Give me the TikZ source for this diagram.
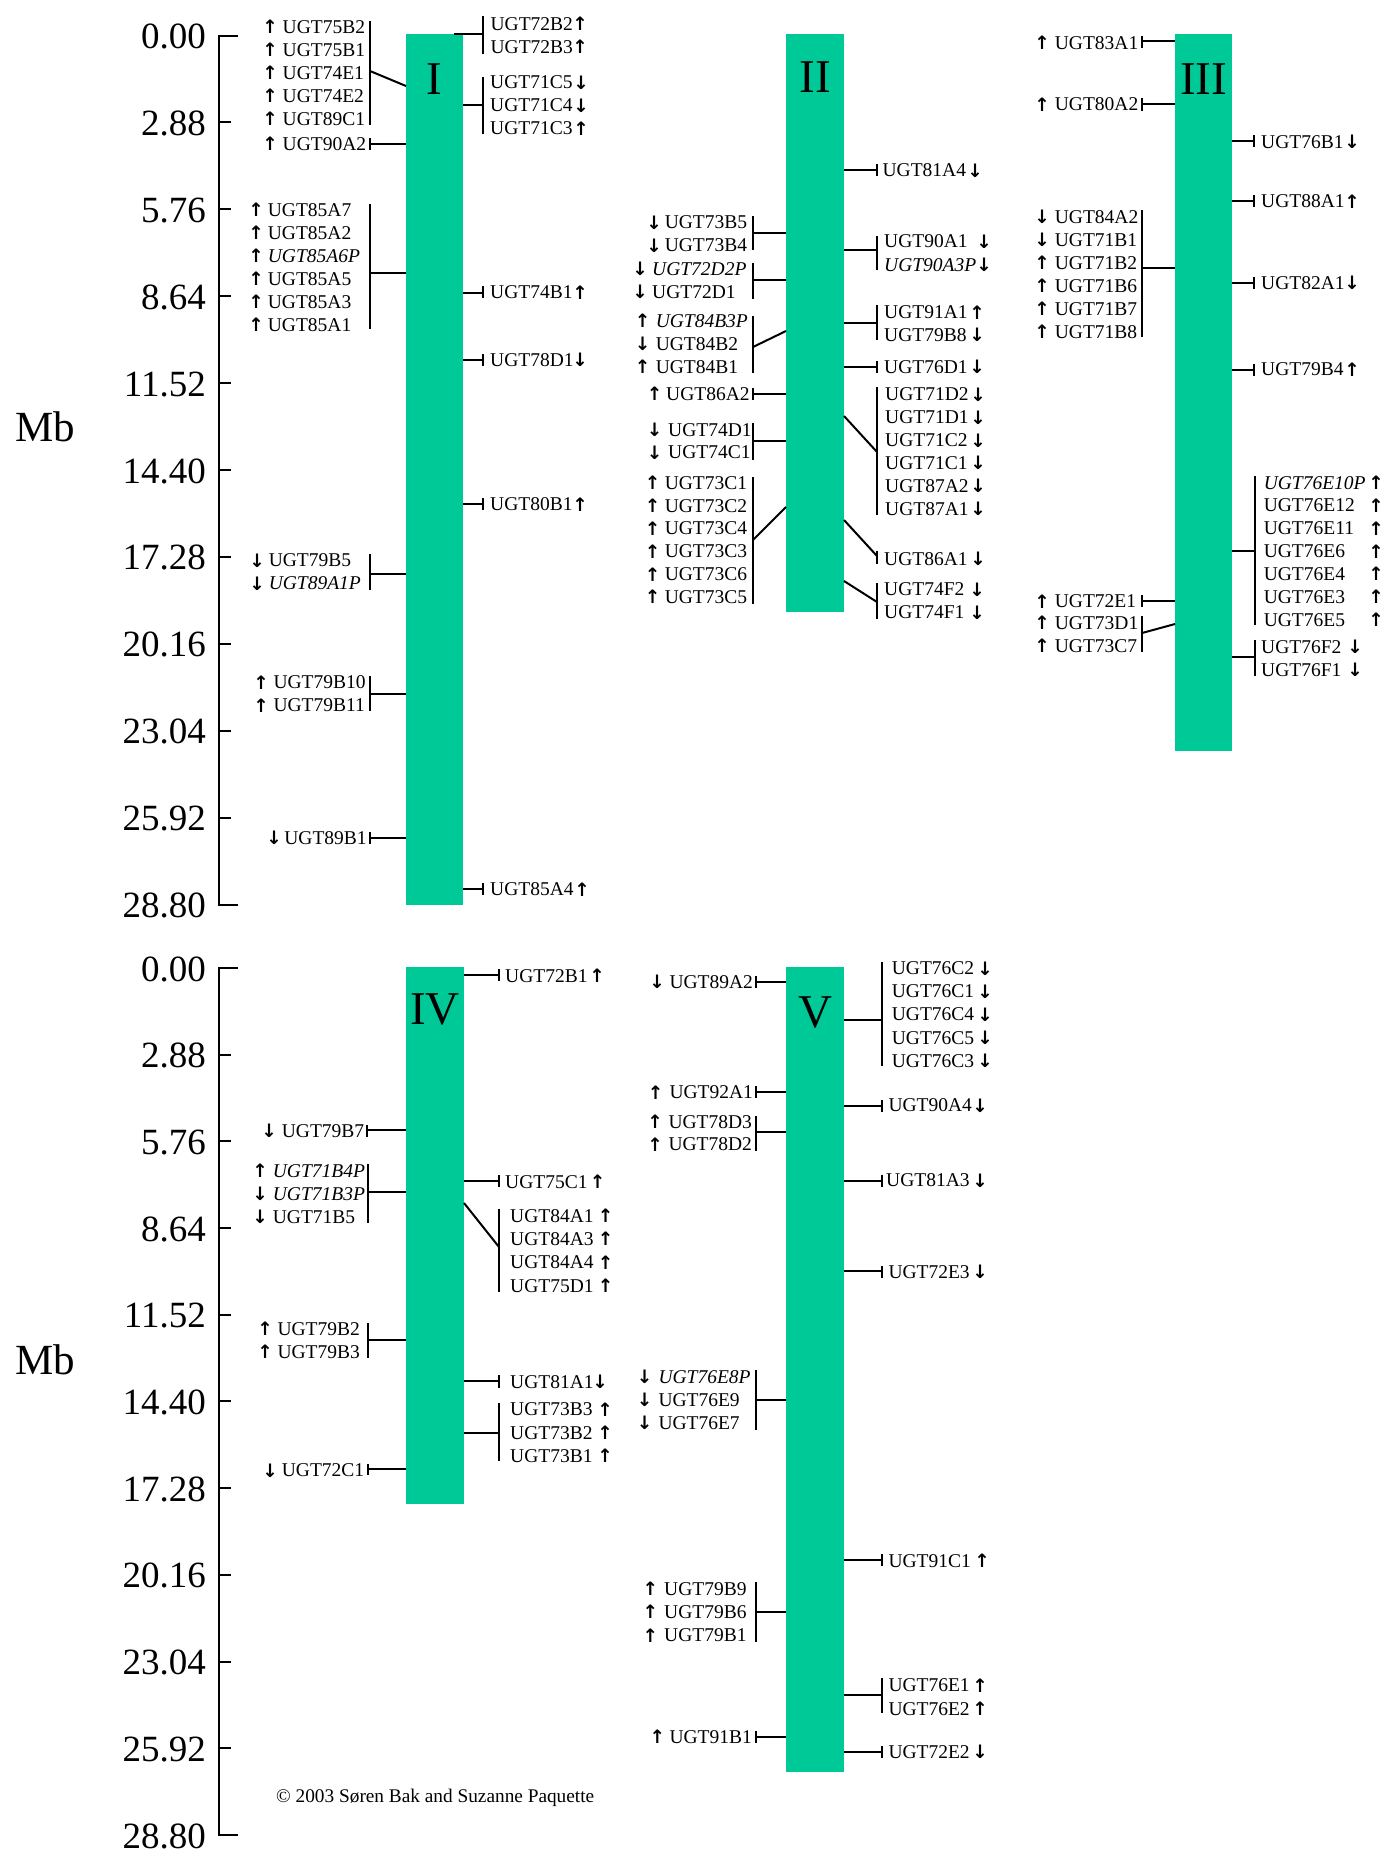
\documentclass[tikz,border=0pt]{standalone}
\usepackage{fontspec}
\setmainfont{Liberation Serif}
\newfontfamily\arrfont{DejaVu Sans}
\definecolor{chrgreen}{RGB}{0,201,152}
\tikzset{
  lab/.style={anchor=west, inner sep=0pt, font=\fontsize{19.5}{23}\selectfont, text height=12.8pt, text depth=0pt},
  labit/.style={lab, font=\fontsize{19.5}{23}\selectfont\itshape},
  arr/.style={inner sep=0pt, font=\fontsize{18.5}{18.5}\arrfont\bfseries},
  ln/.style={line width=2pt, black},
  chrom/.style={fill=chrgreen, draw=none, inner sep=0pt},
  roman/.style={inner sep=0pt, font=\fontsize{47}{50}\selectfont},
  axlab/.style={anchor=east, inner sep=0pt, font=\fontsize{37}{40}\selectfont},
  mblab/.style={inner sep=0pt, font=\fontsize{43}{46}\selectfont},
  copy/.style={anchor=west, inner sep=0pt, font=\fontsize{19.3}{22}\selectfont}
}
\newcommand\upA{↑}
\newcommand\dnA{↓}
\newcommand\Gn[5]{\node[lab] (#1) at (#3,#5) {#1};\node[arr] (#1-a) at (#4,#5) {#2};}
\newcommand\Gi[5]{\node[labit] (#1) at (#3,#5) {#1};\node[arr] (#1-a) at (#4,#5) {#2};}
\newcommand\Brk[7]{%
  \pgfmathsetmacro\bkX{round(#2)}\pgfmathsetmacro\bkT{round(#3)}%
  \pgfmathsetmacro\bkB{round(#4)}\pgfmathsetmacro\bkJ{round(#5)}%
  \pgfmathsetmacro\bkCx{round(#6)}\pgfmathsetmacro\bkCy{round(#7)}%
  \coordinate (#1t) at (\bkX,\bkT);\coordinate (#1b) at (\bkX,\bkB);%
  \coordinate (#1j) at (\bkX,\bkJ);\coordinate (#1c) at (\bkCx,\bkCy);%
  \draw[ln] (#1t)--(#1b);\draw[ln] (#1j)--(#1c);}
\begin{document}
\begin{tikzpicture}[x=1pt,y=-1pt]
\useasboundingbox (0,0) rectangle (1400,1869);
% ---------- axes ----------
\foreach \i/\t in {0/0.00,1/2.88,2/5.76,3/8.64,4/11.52,5/14.40,6/17.28,7/20.16,8/23.04,9/25.92,10/28.80}{
  \pgfmathsetmacro\uty{round(35.5+86.95*\i)}
  \pgfmathsetmacro\lty{round(968+86.7*\i)}
  \node[axlab] (ua\i) at (206,36.5+86.9*\i) {\t};
  \coordinate (uts\i) at (219,\uty);
  \coordinate (ute\i) at (231,\uty);
  \draw[ln] (uts\i) -- (ute\i);
  \node[axlab] (la\i) at (206,969+86.7*\i) {\t};
  \coordinate (lts\i) at (219,\lty);
  \coordinate (lte\i) at (231,\lty);
  \draw[ln] (lts\i) -- (lte\i);
}
\coordinate (uaxT) at (238,36); \coordinate (uaxB) at (238,905);
\draw[ln] (uaxT) -- (uts0) -- (uts10) -- (uaxB);
\coordinate (laxT) at (238,968); \coordinate (laxB) at (238,1835);
\draw[ln] (laxT) -- (lts0) -- (lts10) -- (laxB);
\node[mblab] (mbU) at (45.5,427) {Mb};
\node[mblab] (mbL) at (45.5,1360) {Mb};
% ---------- chromosome bars ----------
\node[chrom, minimum width=57pt, minimum height=870.5pt] (chrI) at (434.5,469.25) {};
\node[chrom, minimum width=58pt, minimum height=577.5pt] (chrII) at (815,322.75) {};
\node[chrom, minimum width=57pt, minimum height=716.5pt] (chrIII) at (1203.5,392.25) {};
\node[chrom, minimum width=58pt, minimum height=537.5pt] (chrIV) at (435,1235.25) {};
\node[chrom, minimum width=58pt, minimum height=804.5pt] (chrV) at (815,1369.25) {};
\node[roman] (nI) at (434.5,79) {I};
\node[roman] (nII) at (815,77) {II};
\node[roman] (nIII) at (1203.5,79) {III};
\node[roman] (nIV) at (435,1009) {IV};
\node[roman] (nV) at (815,1012.7) {V};
% ================= Chromosome I =================
\begin{scope}[yshift=-1pt]
\Gn{UGT75B2}{\upA}{282.5}{270}{26}
\Gn{UGT75B1}{\upA}{282.5}{270}{49}
\Gn{UGT74E1}{\upA}{282.5}{270}{72}
\Gn{UGT74E2}{\upA}{282.5}{270}{95}
\Gn{UGT89C1}{\upA}{282.5}{270}{118}
\Brk{gIa}{370}{20}{124}{70.4}{406}{85.2}
\Gn{UGT90A2}{\upA}{282.5}{270}{143}
\Brk{gIb}{370}{137}{149}{143}{406}{143}
\Gn{UGT72B2}{\upA}{490.4}{580}{22.9}
\Gn{UGT72B3}{\upA}{490.4}{580}{46}
\Brk{gIg}{483}{15.3}{52.6}{33}{454}{33}
\Gn{UGT71C5}{\dnA}{490}{581}{81.3}
\Gn{UGT71C4}{\dnA}{490}{581}{104.4}
\Gn{UGT71C3}{\upA}{490}{581}{127.4}
\Brk{gIh}{483}{75.7}{133}{104.4}{463}{104.4}
\end{scope}
\begin{scope}[yshift=-2pt]
\Gn{UGT85A7}{\upA}{267.7}{256}{208}
\Gn{UGT85A2}{\upA}{267.7}{256}{231}
\Gi{UGT85A6P}{\upA}{267.7}{256}{254}
\Gn{UGT85A5}{\upA}{267.7}{256}{277}
\Gn{UGT85A3}{\upA}{267.7}{256}{300}
\Gn{UGT85A1}{\upA}{267.7}{256}{323}
\Brk{gIc}{370}{202}{327}{271}{406}{271}
\Gn{UGT74B1}{\upA}{490}{580}{290.5}
\Brk{gIi}{483}{284}{296}{290.5}{463}{290.5}
\Gn{UGT78D1}{\dnA}{490}{580}{358}
\Brk{gIj}{483}{352}{364}{358}{463}{358}
\end{scope}
\begin{scope}[yshift=-3pt]
\Gn{UGT79B5}{\dnA}{268.6}{257}{557.5}
\Gi{UGT89A1P}{\dnA}{268.6}{257}{580.5}
\Brk{gId}{370}{551}{587}{571}{406}{571}
\Gn{UGT79B10}{\upA}{273.3}{261}{679.5}
\Gn{UGT79B11}{\upA}{273.3}{261}{702.5}
\Brk{gIe}{370}{673}{708}{691}{406}{691}
\Gn{UGT89B1}{\dnA}{284.2}{274}{835}
\Brk{gIf}{370}{829}{841}{835}{406}{835}
\Gn{UGT80B1}{\upA}{490}{580}{501.5}
\Brk{gIk}{483}{495}{507}{501}{463}{501}
\Gn{UGT85A4}{\upA}{490}{582}{886.5}
\Brk{gIl}{483}{880}{892}{886}{463}{886}
\end{scope}
% ================= Chromosome II =================
\Gn{UGT81A4}{\dnA}{882.4}{975}{170.5}
\Brk{gIIg}{876.8}{164.3}{176.3}{170.3}{844}{170.3}
\begin{scope}[yshift=-2pt]
\Gn{UGT73B5}{\dnA}{664.6}{654}{220.5}
\Gn{UGT73B4}{\dnA}{664.6}{654}{243.5}
\Brk{gIIa}{752.7}{214}{248.4}{231.3}{786}{231.3}
\Gi{UGT72D2P}{\dnA}{652}{640}{267}
\Gn{UGT72D1}{\dnA}{652}{640}{290}
\Brk{gIIb}{752.7}{261}{296.6}{277.5}{786}{277.5}
\Gi{UGT84B3P}{\upA}{655.6}{642.5}{318.7}
\Gn{UGT84B2}{\dnA}{655.6}{642.5}{341.7}
\Gn{UGT84B1}{\upA}{655.6}{642.5}{364.8}
\Brk{gIIc}{752.7}{313.7}{371.4}{345}{786}{328.5}
\Gn{UGT86A2}{\upA}{666}{654.5}{392}
\Brk{gIId}{752.7}{386}{398}{392}{786}{392}
\Gn{UGT74D1}{\dnA}{668}{654.5}{427.9}
\Gn{UGT74C1}{\dnA}{668}{654.5}{450.5}
\Brk{gIIe}{752.7}{421.3}{457.6}{438.7}{786}{438.7}
\Gn{UGT73C1}{\upA}{664.6}{652.5}{480.7}
\Gn{UGT73C2}{\upA}{664.6}{652.5}{503.6}
\Gn{UGT73C4}{\upA}{664.6}{652.5}{526.5}
\Gn{UGT73C3}{\upA}{664.6}{652.5}{549.4}
\Gn{UGT73C6}{\upA}{664.6}{652.5}{572.3}
\Gn{UGT73C5}{\upA}{664.6}{652.5}{595.2}
\Brk{gIIf}{752.7}{475}{601.8}{538.4}{786}{504.8}
\Gn{UGT90A1}{\dnA}{884}{984}{239.5}
\Gi{UGT90A3P}{\dnA}{884}{984}{262.6}
\Brk{gIIh}{876.8}{233.9}{267.6}{248.4}{844}{248.4}
\Gn{UGT91A1}{\upA}{884}{977}{310.5}
\Gn{UGT79B8}{\dnA}{884}{977}{333}
\Brk{gIIi}{876.8}{303.2}{338.4}{321}{844}{321}
\Gn{UGT76D1}{\dnA}{884}{977}{364.8}
\Brk{gIIj}{876.8}{358.8}{370.8}{364.8}{844}{364.8}
\Gn{UGT71D2}{\dnA}{885}{978}{392.5}
\Gn{UGT71D1}{\dnA}{885}{978}{415.4}
\Gn{UGT71C2}{\dnA}{885}{978}{438.3}
\Gn{UGT71C1}{\dnA}{885}{978}{461.2}
\Gn{UGT87A2}{\dnA}{885}{978}{484.1}
\Gn{UGT87A1}{\dnA}{885}{978}{507}
\Brk{gIIk}{876.8}{385}{513}{450.3}{844}{414}
\Gn{UGT86A1}{\dnA}{884}{978}{556.6}
\Brk{gIIl}{876.8}{549}{562}{553.5}{844}{518}
\Gn{UGT74F2}{\dnA}{884}{977}{587.3}
\Gn{UGT74F1}{\dnA}{884}{977}{610.4}
\Brk{gIIm}{876.8}{581.3}{617}{599.5}{844}{579}
\end{scope}
% ================= Chromosome III =================
\Gn{UGT83A1}{\upA}{1054.7}{1042}{42.7}
\Brk{gIIIa}{1141.5}{35.5}{48}{41}{1175}{41}
\begin{scope}[yshift=-1pt]
\Gn{UGT80A2}{\upA}{1054.7}{1042}{103.4}
\Brk{gIIIb}{1141.5}{97}{109.5}{102.7}{1175}{102.7}
\Gn{UGT76B1}{\dnA}{1261}{1352}{140.6}
\Brk{gIIIf}{1253.7}{134.3}{146.3}{140.3}{1232}{140.3}
\end{scope}
\begin{scope}[yshift=-3pt]
\Gn{UGT84A2}{\dnA}{1054.7}{1042}{214.2}
\Gn{UGT71B1}{\dnA}{1054.7}{1042}{237.1}
\Gn{UGT71B2}{\upA}{1054.7}{1042}{260}
\Gn{UGT71B6}{\upA}{1054.7}{1042}{282.9}
\Gn{UGT71B7}{\upA}{1054.7}{1042}{305.8}
\Gn{UGT71B8}{\upA}{1054.7}{1042}{328.7}
\Brk{gIIIc}{1141.5}{206.6}{333.5}{264.9}{1175}{264.9}
\Gn{UGT72E1}{\upA}{1054.7}{1042}{598.3}
\Brk{gIIId}{1141.5}{591.5}{603.5}{597.6}{1175}{597.6}
\Gn{UGT73D1}{\upA}{1054.7}{1042}{620}
\Gn{UGT73C7}{\upA}{1054.7}{1042}{643.1}
\Brk{gIIIe}{1141.5}{613.4}{648.7}{629.6}{1175}{620.7}
\Gn{UGT88A1}{\upA}{1261}{1352}{198.3}
\Brk{gIIIg}{1253.7}{192}{204}{198}{1232}{198}
\Gn{UGT82A1}{\dnA}{1261}{1352}{280.1}
\Brk{gIIIh}{1253.7}{273.5}{285.5}{279.5}{1232}{279.5}
\Gn{UGT79B4}{\upA}{1261}{1352}{366.5}
\Brk{gIIIi}{1253.7}{360.5}{372.5}{366.5}{1232}{366.5}
\Gi{UGT76E10P}{\upA}{1263.6}{1376}{479.6}
\Gn{UGT76E12}{\upA}{1263.6}{1376}{502.5}
\Gn{UGT76E11}{\upA}{1263.6}{1376}{525.4}
\Gn{UGT76E6}{\upA}{1263.6}{1376}{548.3}
\Gn{UGT76E4}{\upA}{1263.6}{1376}{571.2}
\Gn{UGT76E3}{\upA}{1263.6}{1376}{594.1}
\Gn{UGT76E5}{\upA}{1263.6}{1376}{617}
\Brk{gIIIj}{1255}{473}{622.3}{548.1}{1232}{548.1}
\Gn{UGT76F2}{\dnA}{1261}{1355}{643.8}
\Gn{UGT76F1}{\dnA}{1261}{1355}{666.8}
\Brk{gIIIk}{1255}{637.2}{672.8}{654.3}{1232}{654.3}
\end{scope}
% ================= Chromosome IV =================
\Gn{UGT79B7}{\dnA}{281.7}{269}{1130.7}
\Brk{gIVa}{367}{1124.5}{1136.5}{1129.5}{406}{1129.5}
\Gi{UGT71B4P}{\upA}{272.7}{260}{1170.7}
\Gi{UGT71B3P}{\dnA}{272.7}{260}{1194}
\Gn{UGT71B5}{\dnA}{272.7}{260}{1216.7}
\Brk{gIVb}{367.7}{1164}{1222.7}{1192.3}{406}{1192.3}
\Gn{UGT79B2}{\upA}{277.3}{265}{1329}
\Gn{UGT79B3}{\upA}{277.3}{265}{1352}
\Brk{gIVc}{367.7}{1323}{1358}{1340}{406}{1340}
\Gn{UGT72C1}{\dnA}{281.7}{270}{1470.5}
\Brk{gIVd}{367.7}{1463.5}{1475}{1468.8}{406}{1468.8}
\Gn{UGT72B1}{\upA}{505}{597}{976}
\Brk{gIVe}{499.3}{969}{981}{975}{464}{975}
\Gn{UGT75C1}{\upA}{505}{597.5}{1181.7}
\Brk{gIVf}{499.3}{1175}{1187}{1180.5}{464}{1180.5}
\Gn{UGT84A1}{\upA}{510}{605.5}{1216}
\Gn{UGT84A3}{\upA}{510}{605.5}{1239}
\Gn{UGT84A4}{\upA}{510}{605.5}{1262.3}
\Gn{UGT75D1}{\upA}{510}{605.5}{1285.7}
\Brk{gIVg}{499.3}{1209.3}{1292.3}{1247.3}{464}{1203.3}
\Gn{UGT81A1}{\dnA}{510}{600}{1381.7}
\Brk{gIVh}{499.3}{1375}{1388}{1381}{464}{1381}
\Gn{UGT73B3}{\upA}{510}{605}{1409.3}
\Gn{UGT73B2}{\upA}{510}{605}{1432.7}
\Gn{UGT73B1}{\upA}{510}{605}{1456}
\Brk{gIVi}{499.3}{1403.3}{1460.7}{1432.7}{464}{1432.7}
% ================= Chromosome V =================
\Gn{UGT89A2}{\dnA}{669.3}{657}{981.7}
\Brk{gVa}{756}{975.5}{988}{981.7}{786}{981.7}
\Gn{UGT92A1}{\upA}{669.3}{655.5}{1092.3}
\Brk{gVb}{756}{1085.5}{1097.5}{1091.5}{786}{1091.5}
\Gn{UGT78D3}{\upA}{668.3}{655}{1122}
\Gn{UGT78D2}{\upA}{668.3}{655}{1144.5}
\Brk{gVc}{756}{1115.7}{1150.7}{1132.3}{786}{1132.3}
\Gi{UGT76E8P}{\dnA}{658.3}{644.5}{1376.7}
\Gn{UGT76E9}{\dnA}{658.3}{644.5}{1400}
\Gn{UGT76E7}{\dnA}{658.3}{644.5}{1422.7}
\Brk{gVd}{755.7}{1370}{1430}{1400}{786}{1400}
\Gn{UGT79B9}{\upA}{664}{650.3}{1588.7}
\Gn{UGT79B6}{\upA}{664}{650.3}{1611.7}
\Gn{UGT79B1}{\upA}{664}{650.3}{1635.5}
\Brk{gVe}{755.7}{1581.7}{1641.7}{1612.3}{786}{1612.3}
\Gn{UGT91B1}{\upA}{669.3}{657.3}{1737}
\Brk{gVf}{756}{1730.5}{1742.5}{1736.5}{786}{1736.5}
\Gn{UGT76C2}{\dnA}{891.7}{985}{968.3}
\Gn{UGT76C1}{\dnA}{891.7}{985}{991.4}
\Gn{UGT76C4}{\dnA}{891.7}{985}{1014.5}
\Gn{UGT76C5}{\dnA}{891.7}{985}{1037.6}
\Gn{UGT76C3}{\dnA}{891.7}{985}{1060.7}
\Brk{gVg}{882.3}{961.7}{1066}{1020}{844}{1020}
\Gn{UGT90A4}{\dnA}{888.3}{980}{1105.5}
\Brk{gVh}{881.7}{1099.5}{1111.5}{1105.5}{844}{1105.5}
\Gn{UGT81A3}{\dnA}{886}{980}{1180.5}
\Brk{gVi}{881.7}{1174.5}{1186.5}{1180.5}{844}{1180.5}
\Gn{UGT72E3}{\dnA}{888.3}{980}{1271.7}
\Brk{gVj}{881.7}{1265.5}{1277.5}{1271.3}{844}{1271.3}
\Gn{UGT91C1}{\upA}{888.3}{982}{1560.7}
\Brk{gVk}{881.7}{1554}{1566}{1560}{844}{1560}
\Gn{UGT76E1}{\upA}{888.3}{980}{1685.5}
\Gn{UGT76E2}{\upA}{888.3}{980}{1708.8}
\Brk{gVl}{881.7}{1678.3}{1713.3}{1695}{844}{1695}
\Gn{UGT72E2}{\dnA}{888.3}{980}{1752}
\Brk{gVm}{881.7}{1745.5}{1757.5}{1751.7}{844}{1751.7}
% copyright
\node[copy] (cpr) at (276,1798) {© 2003 Søren Bak and Suzanne Paquette};
\end{tikzpicture}
\end{document}
